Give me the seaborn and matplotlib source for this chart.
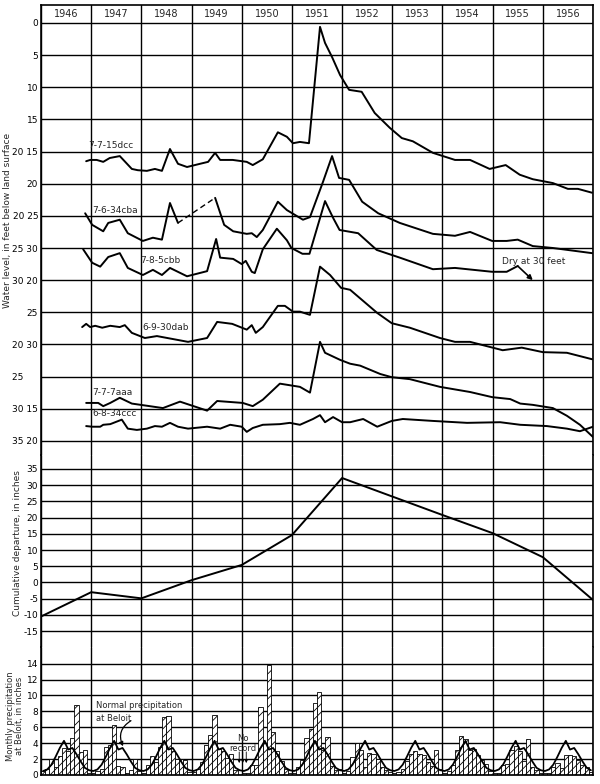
import matplotlib
matplotlib.use("Agg")
import matplotlib.pyplot as plt
import numpy as np
import pandas as pd
import seaborn as sns

year_labels = ["1946", "1947", "1948", "1949", "1950", "1951",
               "1952", "1953", "1954", "1955", "1956"]

# well 7-7-15dcc (depth in feet)
w1_year = [1946.90, 1946.98, 1947.11, 1947.24, 1947.37, 1947.57, 1947.81, 1947.93,
           1948.11, 1948.27, 1948.41, 1948.57, 1948.73, 1948.91, 1949.17, 1949.33,
           1949.47, 1949.57, 1949.82, 1950.10, 1950.22, 1950.42, 1950.72, 1950.90,
           1951.02, 1951.16, 1951.34, 1951.56, 1951.66, 1951.80, 1951.96, 1952.14,
           1952.39, 1952.65, 1952.95, 1953.19, 1953.41, 1953.81, 1954.25, 1954.55,
           1954.94, 1955.26, 1955.54, 1955.80, 1956.20, 1956.50, 1956.70, 1956.98]
w1_depth = [21.5, 21.3, 21.3, 21.6, 21.0, 20.7, 22.7, 22.9, 23.0, 22.7, 23.0, 19.6,
            21.9, 22.4, 21.9, 21.6, 20.2, 21.3, 21.3, 21.6, 22.1, 21.2, 17.0, 17.7,
            18.7, 18.5, 18.7, 0.6, 3.1, 5.3, 8.1, 10.4, 10.7, 14.0, 16.3, 17.9,
            18.4, 20.2, 21.3, 21.3, 22.7, 22.1, 23.6, 24.3, 24.9, 25.8, 25.8, 26.4]

# well 7-6-34cba, first part, then after the dashed gap
w2a_year = [1946.88, 1947.02, 1947.24, 1947.34, 1947.57, 1947.73, 1948.03, 1948.23,
            1948.41, 1948.57, 1948.73]
w2a_depth = [24.6, 26.4, 27.4, 26.1, 25.6, 27.7, 28.9, 28.4, 28.7, 23.0, 26.1]
w2b_year = [1949.47, 1949.65, 1949.83, 1950.10, 1950.20, 1950.30, 1950.42, 1950.72,
            1950.90, 1951.22, 1951.36, 1951.62, 1951.80, 1951.94, 1952.14, 1952.40,
            1952.72, 1953.15, 1953.81, 1954.25, 1954.55, 1954.99, 1955.28, 1955.50,
            1955.80, 1956.20, 1956.98]
w2b_depth = [22.2, 26.4, 27.4, 27.8, 27.7, 28.3, 27.2, 22.8, 24.1, 25.6, 25.2, 19.7,
             15.7, 19.1, 19.4, 22.8, 24.6, 26.1, 27.8, 28.1, 27.5, 28.9, 28.9, 28.7,
             29.7, 30.0, 30.8]

# well 7-8-5cbb
w3_year = [1946.84, 1947.02, 1947.18, 1947.34, 1947.57, 1947.73, 1948.03, 1948.23,
           1948.41, 1948.57, 1948.91, 1949.31, 1949.49, 1949.57, 1949.83, 1950.00,
           1950.08, 1950.20, 1950.26, 1950.42, 1950.70, 1950.90, 1950.99, 1951.21,
           1951.35, 1951.66, 1951.82, 1951.95, 1952.32, 1952.69, 1953.15, 1953.81,
           1954.25, 1954.99, 1955.28, 1955.50, 1955.80]
w3_depth = [25.2, 27.3, 27.9, 26.4, 25.8, 28.1, 29.2, 28.4, 29.2, 28.1, 29.4, 28.6,
            23.6, 26.5, 26.7, 27.5, 27.0, 28.7, 28.9, 25.2, 22.0, 23.8, 25.0, 25.9,
            25.9, 17.7, 20.3, 22.2, 22.7, 25.3, 26.5, 28.3, 28.1, 28.7, 28.7, 27.8,
            30.0]

# well 6-9-30dab
w4_year = [1946.82, 1946.90, 1946.98, 1947.08, 1947.22, 1947.38, 1947.57, 1947.67,
           1947.81, 1948.07, 1948.31, 1948.93, 1949.31, 1949.51, 1949.81, 1950.10,
           1950.20, 1950.28, 1950.42, 1950.72, 1950.86, 1951.02, 1951.16, 1951.36,
           1951.56, 1951.76, 1951.98, 1952.16, 1952.70, 1952.99, 1953.35, 1953.95,
           1954.25, 1954.55, 1955.20, 1955.58, 1956.00, 1956.48, 1956.98]
w4_depth = [27.3, 26.8, 27.3, 27.1, 27.4, 27.1, 27.3, 27.0, 28.2, 29.0, 28.7, 29.6,
            29.0, 26.5, 26.8, 27.7, 27.0, 28.2, 27.3, 24.0, 24.0, 24.9, 24.9, 25.4,
            17.9, 19.2, 21.2, 21.5, 25.1, 26.7, 27.4, 29.0, 29.6, 29.6, 30.9, 30.5,
            31.2, 31.3, 32.3]

# well 7-7-7aaa
w5_year = [1946.90, 1947.14, 1947.24, 1947.38, 1947.57, 1947.81, 1948.43, 1948.77,
           1949.31, 1949.51, 1950.02, 1950.22, 1950.42, 1950.76, 1951.16, 1951.36,
           1951.56, 1951.66, 1951.96, 1952.16, 1952.36, 1952.76, 1952.99, 1953.35,
           1953.95, 1954.55, 1954.99, 1955.35, 1955.55, 1955.80, 1956.20, 1956.48,
           1956.74, 1957.00]
w5_depth = [29.1, 29.1, 29.6, 29.1, 28.3, 29.2, 29.9, 28.9, 30.3, 28.8, 29.1, 29.6,
            28.6, 26.1, 26.6, 27.5, 19.6, 21.3, 22.4, 23.0, 23.3, 24.6, 25.1, 25.4,
            26.6, 27.4, 28.2, 28.5, 29.2, 29.4, 29.9, 31.1, 32.5, 34.4]

# well 6-8-34ccc
w6_year = [1946.90, 1947.02, 1947.18, 1947.24, 1947.38, 1947.61, 1947.73, 1947.91,
           1948.11, 1948.27, 1948.41, 1948.57, 1948.73, 1948.93, 1949.31, 1949.57,
           1949.77, 1950.00, 1950.10, 1950.22, 1950.42, 1950.76, 1950.96, 1951.16,
           1951.42, 1951.56, 1951.66, 1951.82, 1952.00, 1952.16, 1952.42, 1952.70,
           1952.99, 1953.21, 1953.81, 1954.49, 1955.15, 1955.55, 1956.08, 1956.48,
           1956.74, 1957.00]
w6_depth = [17.7, 17.8, 17.8, 17.5, 17.4, 16.7, 18.1, 18.3, 18.1, 17.7, 17.8, 17.2,
            17.8, 18.1, 17.8, 18.1, 17.5, 17.8, 18.6, 18.0, 17.5, 17.4, 17.2, 17.5,
            16.6, 16.0, 17.1, 16.3, 17.1, 17.1, 16.6, 17.8, 16.9, 16.6, 16.9, 17.2,
            17.1, 17.5, 17.7, 18.1, 18.5, 17.8]

# cumulative departure from normal precipitation, inches (end of year)
cd_year = [1946, 1947, 1948, 1949, 1950, 1951, 1952, 1953, 1954, 1955, 1956, 1957]
cd_value = [-10.5, -3.0, -4.9, 0.7, 5.4, 14.6, 32.2, 26.5, 20.8, 15.2, 7.8, -5.4]

# monthly precipitation at Beloit, inches (nan = no record)
precip_1946 = [0.5, 0.7, 2.0, 1.0, 2.4, 3.4, 3.0, 4.6, 8.8, 2.9, 3.2, 0.3]
precip_1947 = [0.3, 0.5, 0.8, 3.5, 3.8, 6.3, 1.1, 1.0, 0.2, 0.6, 2.0, 0.5]
precip_1948 = [0.3, 1.3, 2.4, 1.6, 3.5, 7.3, 7.4, 3.0, 2.0, 2.0, 1.9, 0.4]
precip_1949 = [0.4, 0.7, 1.6, 3.8, 5.0, 7.6, 3.3, 3.0, 2.1, 2.6, 0.6, np.nan]
precip_1950 = [0.3, 0.3, 1.2, 1.2, 8.6, 4.0, 13.8, 5.4, 3.0, 1.7, 0.8, 0.3]
precip_1951 = [0.3, 1.0, 1.9, 4.6, 5.8, 9.0, 10.4, 3.2, 4.8, 1.1, 0.6, 0.8]
precip_1952 = [0.3, 0.5, 2.3, 4.0, 3.2, 1.0, 2.8, 2.7, 2.0, 1.0, 0.6, 0.4]
precip_1953 = [0.3, 0.4, 0.8, 1.7, 2.7, 3.0, 2.7, 2.5, 1.6, 1.1, 3.1, 0.8]
precip_1954 = [0.3, 0.5, 1.2, 3.2, 4.9, 4.5, 3.2, 3.3, 2.5, 1.9, 1.4, 0.5]
precip_1955 = [0.2, 0.3, 1.3, 1.4, 3.2, 3.6, 3.0, 1.8, 4.5, 1.0, 0.6, 0.3]
precip_1956 = [0.3, 0.3, 1.0, 1.5, 0.9, 2.5, 2.5, 2.4, 1.9, 1.3, 1.0, 0.4]
normal_monthly = [0.5, 0.7, 1.3, 2.3, 3.4, 4.3, 3.2, 3.4, 2.6, 1.7, 0.9, 0.6]

wl_tick_labels = ["0", "5", "10", "15", "20 15", "20", "20 25", "25 30", "30 20",
                  "25", "20 30", "25 \u2007\u2007", "30 15", "35 20"]

# ---- styling ----
sns.set_theme(style="white")
plt.rcParams["font.family"] = ["DejaVu Sans"]
plt.rcParams["hatch.linewidth"] = 0.6
plt.rcParams["hatch.color"] = "black"

# well name, years, depths, offset onto the stacked water-level scale
wells = [
    ("7-7-15dcc", w1_year, w1_depth, 0),
    ("7-6-34cba", w2a_year, w2a_depth, 5),
    ("7-6-34cba", w2b_year, w2b_depth, 5),
    ("7-8-5cbb", w3_year[:-1], w3_depth[:-1], 10),
    ("6-9-30dab", w4_year, w4_depth, 20),
    ("7-7-7aaa", w5_year, w5_depth, 30),
    ("6-8-34ccc", w6_year, w6_depth, 45),
]
label_pos = {
    "7-7-15dcc": (1946.94, 19.1),
    "7-6-34cba": (1947.02, 29.1),
    "7-8-5cbb": (1947.97, 37.0),
    "6-9-30dab": (1948.03, 47.4),
    "7-7-7aaa": (1947.02, 57.5),
    "6-8-34ccc": (1947.02, 60.8),
}

fig = plt.figure(figsize=(6, 7.84), dpi=100)
left, width = 41 / 600, 552 / 600
ax_wl = fig.add_axes([left, 1 - 455 / 784, width, 450 / 784])
ax_cd = fig.add_axes([left, 1 - 647 / 784, width, 192 / 784])
ax_pr = fig.add_axes([left, 1 - 775 / 784, width, 128 / 784])

for ax in (ax_wl, ax_cd, ax_pr):
    ax.set_xlim(1946, 1957)
    ax.set_xticks(range(1946, 1958))
    ax.tick_params(axis="x", length=0, labelbottom=False)
    ax.tick_params(axis="y", length=0, pad=2, labelsize=6.5, colors="black")
    ax.grid(True, color="black", linewidth=1.0)
    ax.set_axisbelow(True)
    ax.set_facecolor("white")
    for side in ("left", "right"):
        ax.spines[side].set_visible(True)
        ax.spines[side].set_color("black")
        ax.spines[side].set_linewidth(1.2)
    ax.spines["top"].set_visible(False)
    ax.spines["bottom"].set_visible(False)

# ---- water levels ----
for name, yrs, dep, off in wells:
    df = pd.DataFrame({"year": yrs, "level": np.array(dep) + off})
    sns.lineplot(data=df, x="year", y="level", sort=False, estimator=None,
                 color="black", linewidth=1.4, ax=ax_wl)

# dashed link across the gap in 7-6-34cba
gap = pd.DataFrame({"year": [w2a_year[-1], w2b_year[0]],
                    "level": [w2a_depth[-1] + 5, w2b_depth[0] + 5]})
sns.lineplot(data=gap, x="year", y="level", color="black", linewidth=1.0,
             linestyle=(0, (4, 2.5)), ax=ax_wl)

# 7-8-5cbb ends with an arrow (dry at 30 feet)
ax_wl.annotate("", xy=(w3_year[-1], w3_depth[-1] + 10),
               xytext=(w3_year[-2], w3_depth[-2] + 10),
               arrowprops=dict(arrowstyle="-|>", color="black", lw=1.2,
                               mutation_scale=7, shrinkA=0, shrinkB=0))
ax_wl.text(1955.18, 37.1, "Dry at 30 feet", fontsize=6.5, va="center", ha="left")

for name, (lx, ly) in label_pos.items():
    ax_wl.text(lx, ly, name, fontsize=6.5, va="center", ha="left")

ax_wl.set_ylim(67.2, -2.8)
ax_wl.set_yticks(np.arange(0, 70, 5))
ax_wl.set_yticklabels(wl_tick_labels)
ax_wl.spines["top"].set_visible(True)
ax_wl.spines["top"].set_color("black")
ax_wl.spines["top"].set_linewidth(1.2)
for i, lab in enumerate(year_labels):
    ax_wl.text(1946.5 + i, -1.4, lab, fontsize=7, ha="center", va="center")
ax_wl.set_xlabel("")
ax_wl.set_ylabel("")

# ---- cumulative departure ----
sns.lineplot(x=cd_year, y=cd_value, color="black", linewidth=1.4, ax=ax_cd)
ax_cd.set_ylim(-19.9, 39.3)
ax_cd.set_yticks(np.arange(-15, 40, 5))
ax_cd.set_yticklabels([str(v) for v in range(-15, 40, 5)])
ax_cd.set_xlabel("")
ax_cd.set_ylabel("")

# ---- monthly precipitation ----
precip = np.concatenate([precip_1946, precip_1947, precip_1948, precip_1949,
                         precip_1950, precip_1951, precip_1952, precip_1953,
                         precip_1954, precip_1955, precip_1956])
centers = 1946 + (np.arange(len(precip)) + 0.5) / 12
pr_df = pd.DataFrame({"t": centers, "p": precip}).dropna()
sns.histplot(data=pr_df, x="t", weights="p", binwidth=1 / 12,
             binrange=(1946, 1957), ax=ax_pr,
             color="white", edgecolor="black", linewidth=0.6, alpha=1,
             hatch="////")
normal = np.tile(normal_monthly, len(year_labels))
sns.lineplot(x=centers, y=normal, color="black", linewidth=1.3, ax=ax_pr)
ax_pr.set_xlim(1946, 1957)
ax_pr.set_ylim(0, 16.1)
ax_pr.set_yticks(np.arange(0, 16, 2))
ax_pr.set_yticklabels([str(v) for v in range(0, 16, 2)])
ax_pr.spines["bottom"].set_visible(True)
ax_pr.spines["bottom"].set_color("black")
ax_pr.set_xlabel("")
ax_pr.set_ylabel("")

ax_pr.text(1947.1, 9.3, "Normal precipitation\nat Beloit", fontsize=6,
           va="top", ha="left", linespacing=1.6)
ax_pr.annotate("", xy=(1947.66, 3.3), xytext=(1947.84, 7.0),
               arrowprops=dict(arrowstyle="-|>", color="black", lw=0.9,
                               mutation_scale=6,
                               connectionstyle="arc3,rad=0.5"))
ax_pr.text(1950.02, 4.0, "No\nrecord", fontsize=6, ha="center", va="center",
           linespacing=1.1)
for ax_x in (1949.95, 1950.02, 1950.09):
    ax_pr.annotate("", xy=(ax_x, 1.5), xytext=(ax_x, 2.9),
                   arrowprops=dict(arrowstyle="-|>", color="black", lw=0.6,
                                   mutation_scale=4, shrinkA=0, shrinkB=0))

# ---- axis titles ----
fig.text(0.013, 1 - 220 / 784, "Water level, in feet below land surface",
         rotation=90, fontsize=6.5, ha="center", va="center")
fig.text(0.030, 1 - 543 / 784, "Cumulative departure, in inches",
         rotation=90, fontsize=6.5, ha="center", va="center")
fig.text(0.025, 1 - 716 / 784, "Monthly precipitation\nat Beloit, in inches",
         rotation=90, fontsize=6, ha="center", va="center", linespacing=1.0)

fig.savefig("out.png", dpi=100)
